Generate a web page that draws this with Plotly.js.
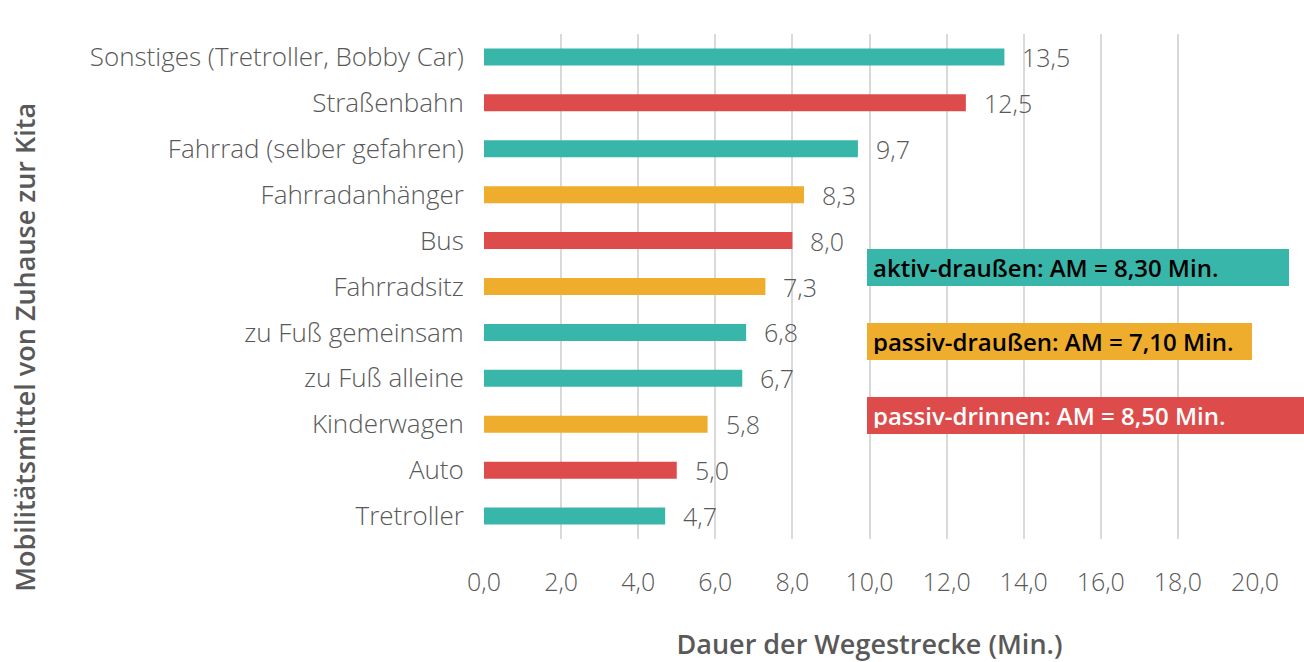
<!DOCTYPE html>
<html>
<head>
<meta charset="utf-8">
<script src="https://cdn.plot.ly/plotly-3.0.1.min.js"></script>
<style>html,body{margin:0;padding:0;background:#fff;}#chart{width:1304px;height:662px;}</style>
</head>
<body>
<div id="chart"></div>
<script>
var categories = ["Sonstiges (Tretroller, Bobby Car)", "Straßenbahn", "Fahrrad (selber gefahren)", "Fahrradanhänger", "Bus", "Fahrradsitz", "zu Fuß gemeinsam", "zu Fuß alleine", "Kinderwagen", "Auto", "Tretroller"];
var values = [13.5, 12.5, 9.7, 8.3, 8.0, 7.3, 6.8, 6.7, 5.8, 5.0, 4.7];
var groups = ["aktiv", "drinnen", "aktiv", "draussen", "drinnen", "draussen", "aktiv", "aktiv", "draussen", "drinnen", "aktiv"];
var groupLabels = ["aktiv-draußen: AM = 8,30 Min.", "passiv-draußen: AM = 7,10 Min.", "passiv-drinnen: AM = 8,50 Min."];
var groupKeys = ["aktiv", "draussen", "drinnen"];
var xTicks = [0, 2, 4, 6, 8, 10, 12, 14, 16, 18, 20];
var xTitle = "Dauer der Wegestrecke (Min.)";
var yTitle = "Mobilitätsmittel von Zuhause zur Kita";

var colors = {aktiv: "#39B6AA", draussen: "#EEAD2D", drinnen: "#DE4B4B"};
var textColors = {aktiv: "#000000", draussen: "#000000", drinnen: "#FFFFFF"};
var boxWidths = {aktiv: 422, draussen: 385, drinnen: 445};
var boxY = {aktiv: 0.5376, draussen: 0.392, drinnen: 0.2455};

var font = "'Open Sans', Roboto, 'DejaVu Sans', sans-serif";
var fmt = function(v){ return v.toFixed(1).replace('.', ','); };

var trace = {
  type: "bar",
  orientation: "h",
  y: categories,
  x: values,
  width: 0.37,
  marker: {color: groups.map(function(g){ return colors[g]; })},
  hoverinfo: "none"
};

var annotations = categories.map(function(c, i){
  return {
    x: values[i], y: c, xref: "x", yref: "y",
    text: fmt(values[i]), showarrow: false,
    xanchor: "left", xshift: 16,
    font: {family: font, size: 25, color: "#595959", weight: 300}
  };
});

groupKeys.forEach(function(k, i){
  annotations.push({
    x: 10, xref: "x", y: boxY[k], yref: "paper",
    xanchor: "left", yanchor: "middle",
    text: groupLabels[i], showarrow: false,
    align: "left", valign: "middle",
    width: boxWidths[k] - 12, height: 37 - 12, borderpad: 6,
    bgcolor: colors[k], borderwidth: 0,
    xshift: -3,
    font: {family: font, size: 24, color: textColors[k], weight: 600}
  });
});

annotations.push({
  x: -0.597, xref: "paper", y: 0.38, yref: "paper",
  xanchor: "center", yanchor: "middle",
  text: yTitle, textangle: -90, showarrow: false,
  font: {family: font, size: 27, color: "#595959", weight: 600}
});

var layout = {
  width: 1304, height: 662,
  margin: {l: 484, r: 49, t: 34, b: 123},
  paper_bgcolor: "#ffffff", plot_bgcolor: "#ffffff",
  separators: ",.",
  showlegend: false,
  bargap: 0.63,
  font: {family: font, color: "#595959"},
  xaxis: {
    range: [0, 20],
    tickvals: xTicks,
    tickformat: ".1f",
    showgrid: true, gridcolor: "#D9D9D9", gridwidth: 2,
    zeroline: false, showline: false,
    ticks: "outside", ticklen: 21, tickcolor: "rgba(0,0,0,0)",
    tickfont: {family: font, size: 25, color: "#595959", weight: 300},
    title: {text: xTitle, standoff: 42, font: {family: font, size: 27, color: "#595959", weight: 600}},
    fixedrange: true
  },
  yaxis: {
    type: "category",
    autorange: "reversed",
    showgrid: false, zeroline: false, showline: false,
    ticks: "outside", ticklen: 14, tickcolor: "rgba(0,0,0,0)",
    tickfont: {family: font, size: 26, color: "#595959", weight: 300},
    fixedrange: true
  },
  annotations: annotations
};

Plotly.newPlot("chart", [trace], layout, {displayModeBar: false, staticPlot: true});
</script>
</body>
</html>
